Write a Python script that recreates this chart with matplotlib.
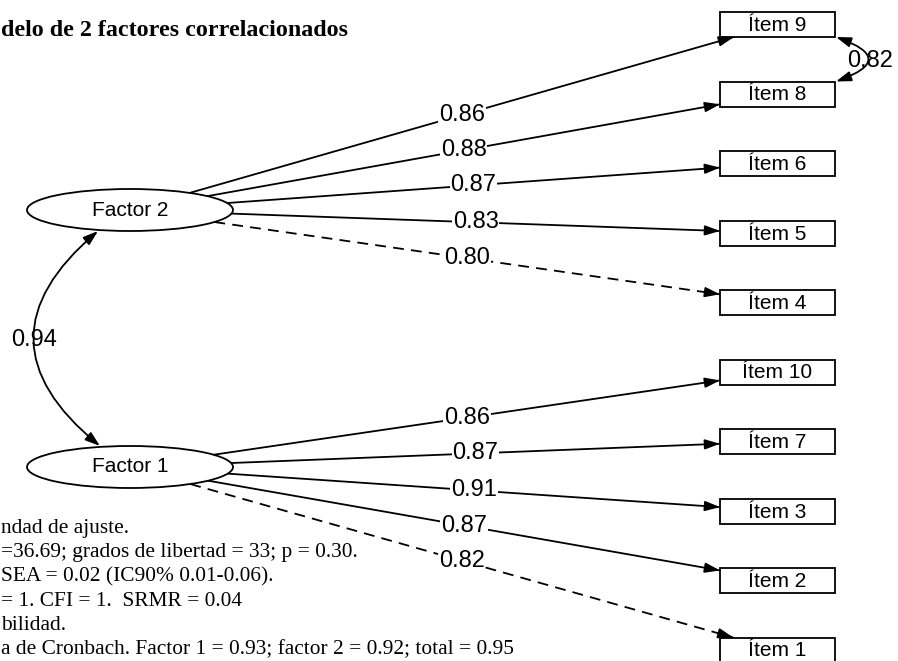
import numpy as np
import matplotlib
matplotlib.use("Agg")
import matplotlib.pyplot as plt
from matplotlib.patches import Ellipse, Rectangle, FancyArrowPatch

# datos del modelo
factores = ["Factor 2", "Factor 1"]
items = ["Ítem 9", "Ítem 8", "Ítem 6", "Ítem 5", "Ítem 4",
         "Ítem 10", "Ítem 7", "Ítem 3", "Ítem 2", "Ítem 1"]
factor_de_item = [0, 0, 0, 0, 0, 1, 1, 1, 1, 1]
cargas = ["0.86", "0.88", "0.87", "0.83", "0.80",
          "0.86", "0.87", "0.91", "0.87", "0.82"]
fijado = [False, False, False, False, True,
          False, False, False, False, True]
cov_factores = "0.94"
cov_items = ("Ítem 9", "Ítem 8", "0.82")

# textos tal como se ven (la imagen original esta recortada a la izquierda)
titulo = "delo de 2 factores correlacionados"
notas = ["ndad de ajuste.",
         "=36.69; grados de libertad = 33; p = 0.30.",
         "SEA = 0.02 (IC90% 0.01-0.06).",
         "= 1. CFI = 1.  SRMR = 0.04",
         "bilidad.",
         "a de Cronbach. Factor 1 = 0.93; factor 2 = 0.92; total = 0.95"]

# layout (pixeles)
W, H = 898, 661
fac_xy = [(130, 210), (130, 467)]
ea, eb = 103, 21
box_x, box_w, box_h = 777.5, 115, 25
box_y0, box_dy = 24.5, 69.5

fig = plt.figure(figsize=(W / 100, H / 100), dpi=100)
ax = fig.add_axes([0, 0, 1, 1])
ax.set_xlim(0, W)
ax.set_ylim(H, 0)
ax.axis("off")

sans = "Liberation Sans"
serif = "Liberation Serif"
lw = 1.3


def salida_elipse(cx, cy, tx, ty):
    dx, dy = tx - cx, ty - cy
    t = 1 / np.sqrt((dx / ea) ** 2 + (dy / eb) ** 2)
    return cx + dx * t, cy + dy * t


def entrada_caja(bx, by, sx, sy):
    dx, dy = sx - bx, sy - by
    t = min((box_w / 2) / abs(dx), (box_h / 2) / abs(dy) if dy != 0 else 1e9)
    return bx + dx * t, by + dy * t


def punta(x0, y0, x1, y1):
    u = np.array([x1 - x0, y1 - y0])
    u = u / np.linalg.norm(u)
    ax.annotate("", xy=(x1, y1), xytext=(x1 - u[0] * 14, y1 - u[1] * 14),
                arrowprops=dict(arrowstyle="-|>,head_length=0.45,head_width=0.15",
                                color="black", lw=lw, shrinkA=0, shrinkB=0,
                                mutation_scale=20))


# factores
for name, (cx, cy) in zip(factores, fac_xy):
    ax.add_patch(Ellipse((cx, cy), 2 * ea, 2 * eb, fc="white", ec="black", lw=lw, zorder=3))
    ax.text(cx, cy, name, ha="center", va="center", fontsize=15, family=sans, zorder=4)

# items y cargas
box_pos = {}
for i, name in enumerate(items):
    by = box_y0 + box_dy * i
    box_pos[name] = by
    ax.add_patch(Rectangle((box_x - box_w / 2, by - box_h / 2), box_w, box_h,
                           fc="white", ec="black", lw=lw, zorder=3))
    ax.text(box_x, by + 1, name, ha="center", va="center", fontsize=15, family=sans, zorder=4)

    cx, cy = fac_xy[factor_de_item[i]]
    x0, y0 = salida_elipse(cx, cy, box_x, by)
    x1, y1 = entrada_caja(box_x, by, cx, cy)
    ls = (0, (6, 4)) if fijado[i] else "-"
    ax.plot([x0, x1], [y0, y1], color="black", lw=lw, linestyle=ls, zorder=2)
    punta(x0, y0, x1, y1)
    ax.text((x0 + x1) / 2, (y0 + y1) / 2, cargas[i], ha="center", va="center",
            fontsize=17, family=sans, zorder=5,
            bbox=dict(fc="white", ec="none", pad=0.5))

# covarianza entre factores
(fx2, fy2), (fx1, fy1) = fac_xy
arr = FancyArrowPatch((fx2 - 32, fy2 + eb), (fx1 - 30, fy1 - eb),
                      connectionstyle="arc3,rad=0.6",
                      arrowstyle="<|-|>,head_length=0.45,head_width=0.15",
                      mutation_scale=20, color="black", lw=lw,
                      shrinkA=0, shrinkB=0, zorder=2)
ax.add_patch(arr)
ax.text(34, 340, cov_factores, ha="center", va="center", fontsize=17, family=sans, zorder=5)

# covarianza residual entre items
ya = box_pos[cov_items[0]] + box_h / 2
yb = box_pos[cov_items[1]] - box_h / 2
xr = box_x + box_w / 2 + 1
arr2 = FancyArrowPatch((xr, ya), (xr, yb), connectionstyle="arc3,rad=-1.4",
                       arrowstyle="<|-|>,head_length=0.45,head_width=0.15",
                       mutation_scale=20, color="black", lw=lw,
                       shrinkA=0, shrinkB=0, zorder=2)
ax.add_patch(arr2)
ax.text(870, 61, cov_items[2], ha="center", va="center", fontsize=17, family=sans, zorder=5)

# titulo y notas, con el tamano ajustado al ancho del original
renderer = fig.canvas.get_renderer()


def ajustar(t, x_fin):
    w = t.get_window_extent(renderer).width
    t.set_fontsize(t.get_fontsize() * (x_fin - 1) / w)


t = ax.text(1, 30, titulo, ha="left", va="center", fontsize=16,
            family=serif, fontweight="bold")
ajustar(t, 347)

textos = [ax.text(1, 528 + 24.4 * j, s, ha="left", va="center", fontsize=15, family=serif)
          for j, s in enumerate(notas)]
ajustar(textos[1], 358)
for t in textos:
    t.set_fontsize(textos[1].get_fontsize())

fig.savefig("out.png", dpi=100)
